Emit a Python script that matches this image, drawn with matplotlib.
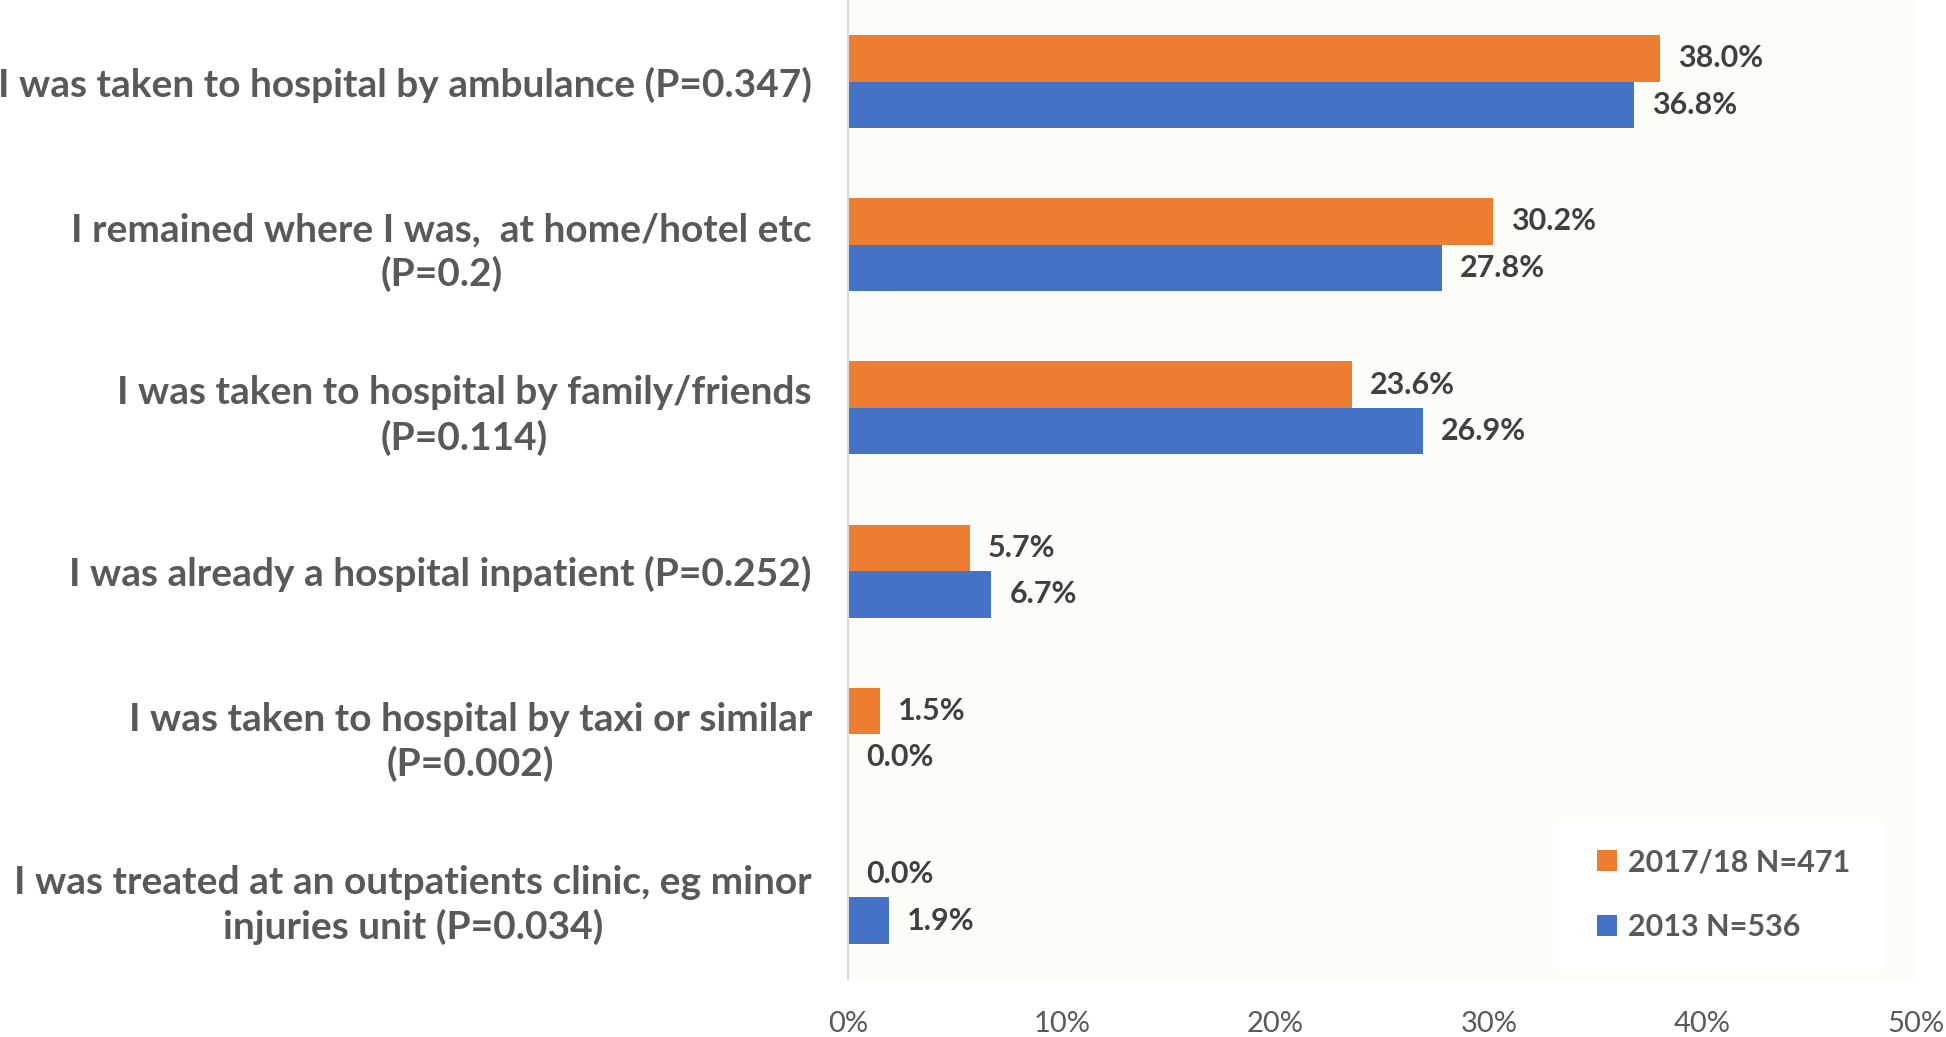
import numpy as np
import matplotlib
matplotlib.use('Agg')
import matplotlib.pyplot as plt
from matplotlib.patches import Rectangle
from matplotlib.ticker import FuncFormatter

# datos del grafico
categorias = [
    "I was taken to hospital by ambulance (P=0.347)",
    "I remained where I was,  at home/hotel etc\n(P=0.2)",
    "I was taken to hospital by family/friends\n(P=0.114)",
    "I was already a hospital inpatient (P=0.252)",
    "I was taken to hospital by taxi or similar\n(P=0.002)",
    "I was treated at an outpatients clinic, eg minor\ninjuries unit (P=0.034)",
]
valores_2017 = [38.0, 30.2, 23.6, 5.7, 1.5, 0.0]
valores_2013 = [36.8, 27.8, 26.9, 6.7, 0.0, 1.9]
series = ["2017/18 N=471", "2013 N=536"]

naranja = '#ED7D31'
azul = '#4472C4'
gris = '#595959'

plt.rcParams['font.family'] = ['Lato', 'DejaVu Sans']

fig = plt.figure(figsize=(19.46, 10.37), dpi=100)
ax = fig.add_axes([0.4358, 0.056, 0.5488, 0.944])
ax.set_facecolor('#FEFCF8')

y = np.arange(len(categorias))
h = 0.285

ax.barh(y - h / 2, valores_2017, height=h, color=naranja, label=series[0])
ax.barh(y + h / 2, valores_2013, height=h, color=azul, label=series[1])

# etiquetas de valores
for i in range(len(categorias)):
    ax.text(valores_2017[i] + 0.85, y[i] - h / 2, f"{valores_2017[i]:.1f}%",
            va='center', ha='left', fontsize=22, fontweight='bold', color='#404040')
    ax.text(valores_2013[i] + 0.85, y[i] + h / 2, f"{valores_2013[i]:.1f}%",
            va='center', ha='left', fontsize=22, fontweight='bold', color='#404040')

ax.set_xlim(0, 50)
ax.set_ylim(len(categorias) - 0.5, -0.5)
ax.set_xticks([0, 10, 20, 30, 40, 50])
ax.xaxis.set_major_formatter(FuncFormatter(lambda v, p: f"{int(v)}%"))
ax.set_yticks(y)
ax.set_yticklabels(categorias, multialignment='center', fontsize=28,
                   fontweight='bold', color=gris, linespacing=1.3)
ax.tick_params(axis='y', length=0, pad=26)
ax.tick_params(axis='x', length=0, pad=23, labelsize=21, labelcolor=gris)

for s in ['top', 'right', 'bottom']:
    ax.spines[s].set_visible(False)
ax.spines['left'].set_color('#D9D9D9')
ax.spines['left'].set_linewidth(1.5)

# fondo blanco de la leyenda
ax.add_patch(Rectangle((0.660, 0.009), 0.311, 0.151, transform=ax.transAxes,
                       facecolor='white', edgecolor='none', zorder=4))
leg = ax.legend(loc='center', bbox_to_anchor=(0.820, 0.086), fontsize=22,
                frameon=False, handlelength=0.65, handleheight=0.65,
                labelspacing=1.2, borderpad=0, handletextpad=0.35)
leg.set_zorder(5)
for t in leg.get_texts():
    t.set_fontweight('bold')
    t.set_color(gris)

fig.savefig('out.png', dpi=100, facecolor='white')
